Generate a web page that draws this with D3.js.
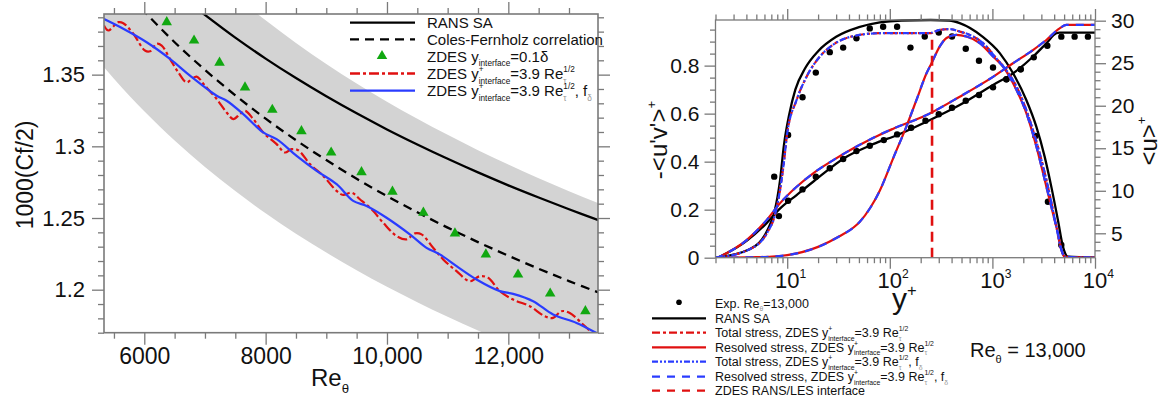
<!DOCTYPE html>
<html><head><meta charset="utf-8">
<script src="https://cdn.jsdelivr.net/npm/d3@7"></script>
<style>body{margin:0;background:#fff} text{font-family:"Liberation Sans",Arial,Helvetica,sans-serif}</style>
</head><body><svg id="c" width="1164" height="400"></svg>
<script>
// ---------------- LEFT PANEL DATA (Re_theta vs 1000(Cf/2)) ----------------
const cfRe = [5300,5500,6000,6500,7000,7500,8000,8500,9000,9500,10000,10500,11000,11500,12000,12500,13000,13500];
const colesFernholz = [1.4284,1.4181,1.3941,1.3726,1.3533,1.3356,1.3193,1.3043,1.2904,1.2774,1.2653,1.2540,1.2433,1.2332,1.2237,1.2146,1.2060,1.1978];
const bandLow = [1.3570,1.3472,1.3244,1.3040,1.2856,1.2688,1.2533,1.2391,1.2259,1.2135,1.2020,1.1913,1.1811,1.1715,1.1625,1.1539,1.1457,1.1379];
const bandHigh = [1.5027,1.4918,1.4666,1.4440,1.4237,1.4051,1.3879,1.3721,1.3575,1.3438,1.3311,1.3192,1.3080,1.2973,1.2873,1.2778,1.2687,1.2601];
const ransRe = [6900,7500,8000,8500,9000,9500,10000,10500,11000,11500,12000,12500,13000,13500];
const ransCf = [1.3949,1.3758,1.3612,1.3476,1.3349,1.3230,1.3118,1.3013,1.2913,1.2818,1.2728,1.2643,1.2561,1.2483];
const deltaRe = [6370,6820,7240,7660,8110,8590,9080,9580,10090,10600,11120,11630,12160,12690,13270];
const deltaCf = [1.3866,1.3738,1.3584,1.3411,1.3255,1.3106,1.2957,1.2820,1.2684,1.2537,1.2393,1.2246,1.2106,1.1973,1.1850];
const redRe = [5336,5407,5572,5654,5819,6011,6094,6204,6287,6423,6560,6698,6781,6863,7000,7193,7357,7466,7576,7659,7796,7960,8181,8318,8428,8537,8730,8949,9170,9278,9417,9553,9746,9937,10158,10323,10459,10570,10761,10926,11147,11366,11530,11667,11860,12079,12354,12601,12738,12876,13013,13232,13397,13480];
const redCf = [1.3843,1.3808,1.3866,1.3859,1.3785,1.3668,1.3663,1.3715,1.3703,1.3610,1.3516,1.3446,1.3470,1.3486,1.3423,1.3330,1.3236,1.3190,1.3225,1.3248,1.3190,1.3097,1.3015,1.2957,1.2980,1.2973,1.2876,1.2794,1.2689,1.2661,1.2677,1.2631,1.2561,1.2467,1.2374,1.2351,1.2393,1.2386,1.2292,1.2211,1.2129,1.2059,1.2094,1.2083,1.1990,1.1931,1.1885,1.1815,1.1803,1.1850,1.1838,1.1757,1.1694,1.1670];
const blueRe = [5325,5654,6039,6423,6753,7193,7357,7631,7960,8181,8511,8840,9170,9443,9664,9993,10377,10652,10871,11147,11476,11860,12079,12409,12738,13124,13469];
const blueCf = [1.3890,1.3820,1.3726,1.3610,1.3493,1.3353,1.3318,1.3225,1.3097,1.3050,1.2934,1.2829,1.2736,1.2619,1.2584,1.2502,1.2386,1.2292,1.2246,1.2164,1.2071,1.1990,1.1971,1.1920,1.1827,1.1768,1.1694];
const xTicksL = [6000,8000,10000,12000];
const yTicksL = [1.2,1.25,1.3,1.35];

// ---------------- RIGHT PANEL DATA (y+ profiles) ----------------
const ypRansUV = [2,4.3,6.5,7.5,8.5,9.3,10.5,12,15,20,30,50,80,130,250,380,480,800,1180,1590,2140,2680,3230,3750,4350,4870,5450,10000];
const ransUV = [0,0.035,0.12,0.19,0.32,0.47,0.6,0.7,0.79,0.86,0.92,0.96,0.98,0.988,0.99,0.988,0.977,0.921,0.852,0.768,0.657,0.546,0.421,0.296,0.157,0.046,0.004,0];
const ypTotUV = [2,4.3,6.5,7.5,8.5,9.3,10,12.35,15.45,20.8,28.1,43.9,80,125,156.6,245,306.9,383.9,480.3,601,810,1094,1369,1845,2308,2888,3478,4201,4697,5254,10000];
const zdesTotUV = [0,0.035,0.11,0.17,0.28,0.40,0.518,0.657,0.754,0.8375,0.8875,0.9225,0.935,0.935,0.935,0.935,0.949,0.952,0.942,0.928,0.894,0.83,0.781,0.685,0.574,0.435,0.296,0.129,0.032,0,0];
const ypResUV = [2,5,10,20,32,47,51,65,80,108,145,182,228,255,307,357,446,558,752,1014,1268,1713,2143,2682,3356,4201,5058,10000];
const zdesResUV = [0,0.002,0.011,0.045,0.088,0.135,0.15,0.21,0.28,0.415,0.546,0.657,0.768,0.81,0.88,0.915,0.928,0.921,0.894,0.838,0.796,0.699,0.602,0.463,0.296,0.129,0.004,0];
const ypRansU = [2,4.02,6.3,8.49,12.35,17.9,37.9,63.9,80,107.7,227.7,480,1014,1587,2485,3356,4201,4521,10000];
const ransU = [2,4.1,6.2,7.9,9.5,11.06,14.0,15.3,15.8,16.35,18.12,20.08,22.44,23.81,25.76,27.34,28.52,28.59,28.59];
const ypZdesU = [2,4.02,6.3,8.49,12.35,17.9,28.1,47.4,80,108,228,480,1014,1587,2485,3356,4521,5254,10000];
const zdesU = [2,4.2,6.55,8.52,10.47,12.05,13.6,15.2,16.6,17.3,18.9,21.06,23.4,24.99,26.55,27.73,29.1,29.5,29.5];
const expUVyp = [7.47,10.2,14.1,19.0,26.0,35.1,47.3,63.8,86.1,117.8,159,219,300,404,550,740,1014,1369,1886,2622,3478,4697];
const expUV = [0.3375,0.511,0.668,0.771,0.856,0.875,0.914,0.955,0.962,0.962,0.875,0.921,0.938,0.921,0.87,0.82,0.792,0.743,0.785,0.507,0.233,0.053];
const expUyp = [8.3,10.2,14.1,19.0,26.0,35.1,47.3,63.8,87.4,117.8,161.4,222.6,300,404,550,740,1014,1369,1886,2530,3430,4697,6330,8531];
const expU = [7.02,8.82,10.16,11.65,12.64,13.73,14.67,15.29,15.96,16.63,17.41,18.24,18.99,19.76,20.59,21.26,22.16,23.1,24.28,25.69,27.06,28.12,28.12,28.12];
const interfaceYp = 258;
const interfaceUV = [0, 0.935];
const xTicksR = [10,100,1000,10000];
const yTicksRuv = [0,0.2,0.4,0.6,0.8];
const yTicksRu = [5,10,15,20,25,30];

// ---------------- DRAWING ----------------
const svg = d3.select('#c');
svg.append('rect').attr('width',1164).attr('height',400).attr('fill','#fff');
const RED = '#e01010', BLUE = '#2a3cff', GREEN = '#11a811', AX = '#7a7a7a';

function rich(sel, parts, fs){
  let shift = 0, prevW = 0;
  parts.forEach(p => {
    const s = p[0], m = p[1] || 'n', col = p[2];
    let size = fs, target = 0;
    if (m.startsWith('sub')) { size = fs*0.55; target = fs*0.3; }
    if (m.startsWith('sup')) { size = fs*0.55; target = -fs*0.45; }
    const ts = sel.append('tspan').text(s).attr('font-size', size).attr('dy', (target - shift).toFixed(2));
    if (m.endsWith('B')) ts.attr('dx', (-prevW).toFixed(2));
    if (col) ts.attr('fill', col);
    shift = target;
    prevW = ts.node().getComputedTextLength();
  });
}
function styleAxis(g){
  g.select('.domain').remove();
  g.selectAll('line').attr('stroke',AX).attr('stroke-width',1.3);
  g.selectAll('text').attr('fill','#111');
}
function idx(n){ return d3.range(n); }

// ===== Left panel =====
const L = {x0:104, x1:598, y0:14, y1:332.7};
const xL = d3.scaleLinear().domain([5336,13478]).range([L.x0,L.x1]);
const yL = d3.scaleLinear().domain([1.17,1.3923]).range([L.y1,L.y0]);
svg.append('clipPath').attr('id','clipL').append('rect')
  .attr('x',L.x0).attr('y',L.y0).attr('width',L.x1-L.x0).attr('height',L.y1-L.y0);
const gL = svg.append('g').attr('clip-path','url(#clipL)');
gL.append('path').datum(idx(cfRe.length))
  .attr('d', d3.area().x(i=>xL(cfRe[i])).y0(i=>yL(bandLow[i])).y1(i=>yL(bandHigh[i])).curve(d3.curveMonotoneX))
  .attr('fill','#d3d3d3');
function lineL(xs, ys, color, w, dash){
  gL.append('path').datum(idx(xs.length))
    .attr('d', d3.line().x(i=>xL(xs[i])).y(i=>yL(ys[i])).curve(d3.curveCatmullRom))
    .attr('fill','none').attr('stroke',color).attr('stroke-width',w)
    .attr('stroke-dasharray',dash||null);
}
lineL(ransRe, ransCf, '#000', 2.3);
lineL(cfRe, colesFernholz, '#000', 2.3, '9,6');
const tri = d3.symbol().type(d3.symbolTriangle).size(48);
gL.selectAll('.tri').data(idx(deltaRe.length)).enter().append('path')
  .attr('d', tri).attr('fill',GREEN)
  .attr('transform', i=>`translate(${xL(deltaRe[i])},${yL(deltaCf[i])})`);
lineL(redRe, redCf, RED, 2.2, '10,3,3,3');
lineL(blueRe, blueCf, BLUE, 2.2);

// axes left
const xMinL = d3.range(5500,13500,500).filter(v=>!xTicksL.includes(v));
const yMinL = d3.range(117,140,1).map(v=>v/100).filter(v=>!yTicksL.some(t=>Math.abs(t-v)<1e-6));
const fmtX = d => d>=10000 ? d3.format(',')(d) : String(d);
styleAxis(svg.append('g').attr('transform',`translate(0,${L.y1})`).call(d3.axisBottom(xL).tickValues(xTicksL).tickSize(12).tickPadding(3).tickFormat(fmtX)).attr('font-size',23));
styleAxis(svg.append('g').attr('transform',`translate(0,${L.y1})`).call(d3.axisBottom(xL).tickValues(xMinL).tickSize(6).tickFormat('')));
styleAxis(svg.append('g').attr('transform',`translate(0,${L.y0})`).call(d3.axisTop(xL).tickValues(xTicksL).tickSize(12).tickFormat('')));
styleAxis(svg.append('g').attr('transform',`translate(0,${L.y0})`).call(d3.axisTop(xL).tickValues(xMinL).tickSize(6).tickFormat('')));
styleAxis(svg.append('g').attr('transform',`translate(${L.x0},0)`).call(d3.axisLeft(yL).tickValues(yTicksL).tickSize(12).tickPadding(7).tickFormat(d=>String(+d.toFixed(2)))).attr('font-size',22));
styleAxis(svg.append('g').attr('transform',`translate(${L.x0},0)`).call(d3.axisLeft(yL).tickValues(yMinL).tickSize(6).tickFormat('')));
styleAxis(svg.append('g').attr('transform',`translate(${L.x1},0)`).call(d3.axisRight(yL).tickValues(yTicksL).tickSize(12).tickFormat('')));
styleAxis(svg.append('g').attr('transform',`translate(${L.x1},0)`).call(d3.axisRight(yL).tickValues(yMinL).tickSize(6).tickFormat('')));
svg.append('rect').attr('x',L.x0).attr('y',L.y0).attr('width',L.x1-L.x0).attr('height',L.y1-L.y0)
  .attr('fill','none').attr('stroke',AX).attr('stroke-width',1.6);

// titles left
rich(svg.append('text').attr('x',311).attr('y',386).attr('fill','#111'), [['Re'],['θ','sub']], 24);
svg.append('text').attr('transform','translate(33,175) rotate(-90)').attr('text-anchor','middle')
  .attr('font-size',23).attr('fill','#111').text('1000(Cf/2)');

// legend left
const legL = [
  {t:[['RANS SA']], c:'#000', d:null, k:'line'},
  {t:[['Coles-Fernholz correlation']], c:'#000', d:'9,6', k:'line'},
  {t:[['ZDES y'],['interface','sub'],['=0.1δ']], c:GREEN, k:'tri'},
  {t:[['ZDES y'],['+','sup'],['interface','subB'],['=3.9 Re'],['τ','sub','#999'],['1/2','supB']], c:RED, d:'10,3,3,3', k:'line'},
  {t:[['ZDES y'],['+','sup'],['interface','subB'],['=3.9 Re'],['τ','sub','#999'],['1/2','supB'],[',  f'],['δ','sub','#999']], c:BLUE, d:null, k:'line'}
];
const legLy = [22.7,39.3,56,73.5,90.7];
legL.forEach((e,i)=>{
  const y = legLy[i];
  if (e.k==='line') svg.append('line').attr('x1',350).attr('x2',415).attr('y1',y).attr('y2',y)
    .attr('stroke',e.c).attr('stroke-width',2.3).attr('stroke-dasharray',e.d);
  else svg.append('path').attr('d',tri).attr('fill',e.c).attr('transform',`translate(382,${y})`);
  rich(svg.append('text').attr('x',427).attr('y',y+5.5).attr('fill','#111'), e.t, 15);
});

// ===== Right panel =====
const R = {x0:715.5, x1:1095, y0:20, y1:257.7};
const xR = d3.scaleLog().domain([2,10000]).range([R.x0,R.x1]);
const yRuv = d3.scaleLinear().domain([0,0.99]).range([R.y1,R.y0]);
const yRu = d3.scaleLinear().domain([2.13,30.08]).range([R.y1,R.y0]);
svg.append('clipPath').attr('id','clipR').append('rect')
  .attr('x',R.x0).attr('y',R.y0-2).attr('width',R.x1-R.x0).attr('height',R.y1-R.y0+2);
const gR = svg.append('g').attr('clip-path','url(#clipR)');
function lineR(xs, ys, ys_scale, color, w, dash){
  gR.append('path').datum(idx(xs.length))
    .attr('d', d3.line().x(i=>xR(xs[i])).y(i=>ys_scale(ys[i])).curve(d3.curveMonotoneX))
    .attr('fill','none').attr('stroke',color).attr('stroke-width',w)
    .attr('stroke-dasharray',dash||null);
}
// experiments
gR.selectAll('.du').data(idx(expUyp.length)).enter().append('circle')
  .attr('cx',i=>xR(expUyp[i])).attr('cy',i=>yRu(expU[i])).attr('r',3.2).attr('fill','#000');
gR.selectAll('.dv').data(idx(expUVyp.length)).enter().append('circle')
  .attr('cx',i=>xR(expUVyp[i])).attr('cy',i=>yRuv(expUV[i])).attr('r',3.2).attr('fill','#000');
// RANS
lineR(ypRansUV, ransUV, yRuv, '#000', 2.3);
lineR(ypRansU, ransU, yRu, '#000', 2.3);
// ZDES red
lineR(ypTotUV, zdesTotUV, yRuv, RED, 2.2, '8,3,3,3');
lineR(ypResUV, zdesResUV, yRuv, RED, 2.2);
lineR(ypZdesU, zdesU, yRu, RED, 2.2);
// ZDES blue
lineR(ypTotUV, zdesTotUV, yRuv, BLUE, 2.2, '6,2,2,2,2,2');
lineR(ypResUV, zdesResUV, yRuv, BLUE, 2.2, '8,7');
lineR(ypZdesU, zdesU, yRu, BLUE, 2.2, '8,7');
// interface
gR.append('line').attr('x1',xR(interfaceYp)).attr('x2',xR(interfaceYp))
  .attr('y1',yRuv(interfaceUV[0])).attr('y2',yRuv(interfaceUV[1]))
  .attr('stroke',RED).attr('stroke-width',2.6).attr('stroke-dasharray','10,6');

// axes right
const xMinR = [];
[1,10,100,1000].forEach(dec=>{ for(let k=2;k<=9;k++){ const v=k*dec; if(v>=2 && v<10000) xMinR.push(v);} });
const yMinRuv = d3.range(1,20).map(v=>v*0.05).filter(v=>!yTicksRuv.some(t=>Math.abs(t-v)<1e-6));
const yMinRu = d3.range(3,30).filter(v=>!yTicksRu.includes(v));
styleAxis(svg.append('g').attr('transform',`translate(0,${R.y1})`).call(d3.axisBottom(xR).tickValues(xTicksR).tickSize(11).tickFormat('')));
styleAxis(svg.append('g').attr('transform',`translate(0,${R.y1})`).call(d3.axisBottom(xR).tickValues(xMinR).tickSize(5.5).tickFormat('')));
styleAxis(svg.append('g').attr('transform',`translate(0,${R.y0})`).call(d3.axisTop(xR).tickValues(xTicksR).tickSize(11).tickFormat('')));
styleAxis(svg.append('g').attr('transform',`translate(0,${R.y0})`).call(d3.axisTop(xR).tickValues(xMinR).tickSize(5.5).tickFormat('')));
styleAxis(svg.append('g').attr('transform',`translate(${R.x0},0)`).call(d3.axisLeft(yRuv).tickValues(yTicksRuv).tickSize(11).tickPadding(5).tickFormat(d=>String(+d.toFixed(1)))).attr('font-size',21));
styleAxis(svg.append('g').attr('transform',`translate(${R.x0},0)`).call(d3.axisLeft(yRuv).tickValues(yMinRuv).tickSize(5.5).tickFormat('')));
styleAxis(svg.append('g').attr('transform',`translate(${R.x1},0)`).call(d3.axisRight(yRu).tickValues(yTicksRu).tickSize(11).tickPadding(5).tickFormat(d=>String(d))).attr('font-size',21));
styleAxis(svg.append('g').attr('transform',`translate(${R.x1},0)`).call(d3.axisRight(yRu).tickValues(yMinRu).tickSize(5.5).tickFormat('')));
svg.append('rect').attr('x',R.x0).attr('y',R.y0).attr('width',R.x1-R.x0).attr('height',R.y1-R.y0)
  .attr('fill','none').attr('stroke',AX).attr('stroke-width',1.3);
// x tick labels 10^n
xTicksR.forEach(v=>{
  const t = svg.append('text').attr('y',288).attr('fill','#111');
  rich(t, [['10'],[String(Math.round(Math.log10(v))),'sup']], 22);
  const w = t.select('tspan').node().getComputedTextLength();
  t.attr('x', xR(v) - w/2);
});
// titles right
rich(svg.append('text').attr('x',892).attr('y',309).attr('fill','#111'), [['y'],['+','sup']], 30);
rich(svg.append('text').attr('transform','translate(667,140) rotate(-90)').attr('text-anchor','middle').attr('fill','#111'),
  [["-<u'v'>"],['+','sup']], 24);
rich(svg.append('text').attr('transform','translate(1157,141) rotate(-90)').attr('text-anchor','middle').attr('fill','#111'),
  [['<u>'],['+','sup']], 24);
rich(svg.append('text').attr('x',970).attr('y',357).attr('fill','#111'), [['Re'],['θ','sub'],[' = 13,000']], 20);

// legend right
const legR = [
  {t:[['Exp. Re'],['θ','sub','#999'],['=13,000']], k:'dot'},
  {t:[['RANS SA']], c:'#000', d:null},
  {t:[['Total stress, ZDES y'],['+','sup'],['interface','subB'],['=3.9 Re'],['τ','sub','#999'],['1/2','supB']], c:RED, d:'8,3,3,3'},
  {t:[['Resolved stress, ZDES y'],['+','sup'],['interface','subB'],['=3.9 Re'],['τ','sub','#999'],['1/2','supB']], c:RED, d:null},
  {t:[['Total stress, ZDES y'],['+','sup'],['interface','subB'],['=3.9 Re'],['τ','sub','#999'],['1/2','supB'],[',       f'],['δ','sub','#999']], c:BLUE, d:'6,2,2,2,2,2'},
  {t:[['Resolved stress, ZDES y'],['+','sup'],['interface','subB'],['=3.9 Re'],['τ','sub','#999'],['1/2','supB'],[',  f'],['δ','sub','#999']], c:BLUE, d:'8,7'},
  {t:[['ZDES RANS/LES interface']], c:RED, d:'8,7'}
];
const legRy = [303.3,318.3,332.7,347.3,361.7,376.7,390.7];
legR.forEach((e,i)=>{
  const y = legRy[i];
  if (e.k==='dot') svg.append('circle').attr('cx',679).attr('cy',y-1).attr('r',2.8).attr('fill','#000');
  else svg.append('line').attr('x1',652).attr('x2',706).attr('y1',y).attr('y2',y)
    .attr('stroke',e.c).attr('stroke-width',2.3).attr('stroke-dasharray',e.d);
  rich(svg.append('text').attr('x',715).attr('y',y+4.3).attr('fill','#111'), e.t, 12.5);
});
</script>
</body></html>
